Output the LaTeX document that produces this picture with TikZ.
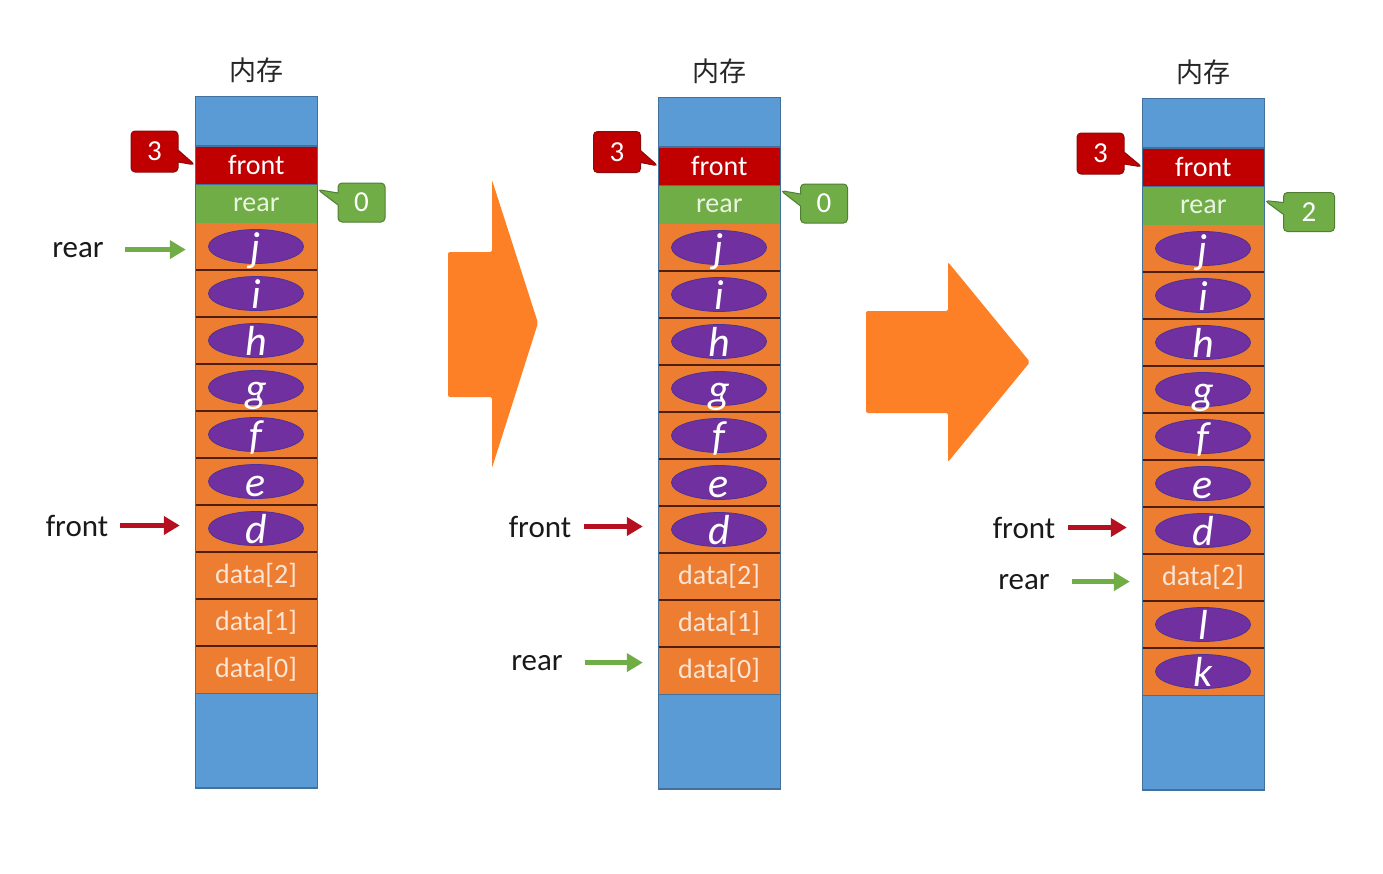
\documentclass[tikz,border=0pt]{standalone}
\usepackage{fontspec}
\setmainfont{Carlito}
\newfontfamily\cjk{Noto Sans CJK SC}
\usetikzlibrary{shapes.geometric,shapes.callouts,arrows.meta,calc}
\definecolor{memblue}{RGB}{91,155,213}
\definecolor{memborder}{RGB}{65,113,156}
\definecolor{memred}{RGB}{192,0,0}
\definecolor{memredborder}{RGB}{140,10,10}
\definecolor{memgreen}{RGB}{112,173,71}
\definecolor{memgreenborder}{RGB}{80,126,50}
\definecolor{memorange}{RGB}{237,125,49}
\definecolor{sepbrown}{RGB}{80,30,10}
\definecolor{mempurple}{RGB}{112,48,160}
\definecolor{ellborder}{RGB}{80,50,150}
\definecolor{datatext}{RGB}{251,229,214}
\definecolor{reartext}{RGB}{234,245,224}
\definecolor{bigorange}{RGB}{253,128,38}
\definecolor{arrred}{RGB}{180,16,32}
\newcommand{\drawmem}[4]{%
 \begin{scope}[shift={(#1,#2)}]
  \node[cellbox,fill=memblue,minimum height=49pt,anchor=north west] (#3top) at (0,0) {};
  \node[cellbox,fill=memred,minimum height=38pt,anchor=north,text=white] (#3f) at (#3top.south) {front};
  \node[cellbox,fill=memgreen,minimum height=40pt,anchor=north,text=reartext] (#3r) at (#3f.south) {rear};
  \foreach \i in {1,...,10} {\node[ocell] (#3c\i) at (61,{103.5+47*\i}) {};}
  \node[cellbox,fill=memblue,minimum height=94pt,anchor=north] (#3bot) at (#3c10.south) {};
  \foreach \i in {1,...,9} {\draw[sepline] (#3c\i.south west) -- (#3c\i.south east);}
  \draw[memborder,line width=0.6pt] (#3top.north west) rectangle (#3bot.south east);
  \node[cjklab] (#3lab) at ([yshift=26pt]#3top.north) {内存};
  \foreach \l [count=\i] in {#4} {
    \node[ell] (#3e\i) at (#3c\i) {};
    \node[letter] (#3t\i) at ([yshift=2pt]#3e\i.south) {\l};
  }
 \end{scope}}
\begin{document}
\begin{tikzpicture}[x=1pt,y=-1pt,
  cellbox/.style={draw=memborder,line width=0.6pt,minimum width=122pt,inner sep=0pt,text=datatext,font=\fontsize{28}{30}\selectfont},
  ocell/.style={fill=memorange,minimum width=122pt,minimum height=47pt,inner sep=0pt,text=datatext,font=\fontsize{28}{30}\selectfont},
  sepline/.style={draw=sepbrown,line width=2pt},
  ell/.style={ellipse,fill=mempurple,draw=ellborder,line width=0.8pt,minimum width=95pt,minimum height=34pt,inner sep=0pt},
  letter/.style={text=white,font=\fontsize{42}{44}\selectfont\itshape,inner sep=0pt,anchor=base},
  cjklab/.style={font=\cjk\fontsize{27}{29}\selectfont,text=black!85,inner sep=0pt},
  sidelab/.style={font=\fontsize{31}{33}\selectfont,text=black!90,inner sep=0pt,anchor=base},
  datalab/.style={text=datatext,font=\fontsize{28}{30}\selectfont,inner sep=0pt},
  garrow/.style={draw=memgreen,line width=5pt,-{Triangle[length=16pt,width=18pt]}},
  rarrow/.style={draw=arrred,line width=5pt,-{Triangle[length=16pt,width=18pt]}},
  callred/.style={rectangle callout,rounded corners=4pt,callout pointer width=12pt,fill=memred,draw=memredborder,line width=1pt,text=white,minimum width=47pt,minimum height=41pt,inner sep=0pt,font=\fontsize{29}{31}\selectfont},
  callgreen/.style={rectangle callout,rounded corners=4pt,callout pointer width=12pt,fill=memgreen,draw=memgreenborder,line width=1pt,text=white,minimum width=47pt,minimum height=39pt,inner sep=0pt,font=\fontsize{29}{31}\selectfont},
  bigarrow/.style={fill=bigorange,rounded corners=2pt}
]
\useasboundingbox (0,0) rectangle (1383,873);

% big transition arrows
\fill[bigarrow] (448,252) -- (492,252) -- (492,180) -- (538,323) -- (492,468) -- (492,397) -- (448,397) -- cycle;
\fill[bigarrow] (866,311) -- (948,311) -- (948,262) -- (1030,362) -- (948,462) -- (948,413) -- (866,413) -- cycle;

% columns
\drawmem{195}{96}{A}{j,i,h,g,f,e,d}
\drawmem{658}{97}{B}{j,i,h,g,f,e,d}
\drawmem{1142}{98}{C}{j,i,h,g,f,e,d}

% data cell texts
\node[datalab] (Ad2) at (Ac8) {data[2]};
\node[datalab] (Ad1) at (Ac9) {data[1]};
\node[datalab] (Ad0) at (Ac10) {data[0]};
\node[datalab] (Bd2) at (Bc8) {data[2]};
\node[datalab] (Bd1) at (Bc9) {data[1]};
\node[datalab] (Bd0) at (Bc10) {data[0]};
\node[datalab] (Cd2) at (Cc8) {data[2]};
\node[ell] (Ce9) at (Cc9) {};
\node[letter] (Ct9) at ([yshift=2pt]Ce9.south) {l};
\node[ell] (Ce10) at (Cc10) {};
\node[letter] (Ct10) at ([yshift=2pt]Ce10.south) {k};

% callouts
\node[callred,callout absolute pointer={(Af.west)}] (An3) at (154.5,151.5) {3};
\node[callgreen,callout absolute pointer={([yshift=15pt]Ar.east)}] (An0) at (361.5,202.5) {0};
\node[callred,callout absolute pointer={(Bf.west)}] (Bn3) at (617,152) {3};
\node[callgreen,callout absolute pointer={([yshift=15pt]Br.east)}] (Bn0) at (824,203.5) {0};
\node[callred,callout absolute pointer={(Cf.west)}] (Cn3) at (1100.5,153.5) {3};
\node[callgreen,minimum width=51pt,callout absolute pointer={([yshift=6pt]Cr.east)}] (Cn2) at (1309,212) {2};

% side labels and pointer arrows
\node[sidelab] (Arl) at (78,257) {rear};
\draw[garrow,shorten <=21pt,shorten >=9pt] (Arl.east) -- (Arl.east -| Ac1.west);
\node[sidelab] (Afl) at (77,536) {front};
\draw[rarrow,shorten <=12pt,shorten >=15pt] (Afl.east) -- (Afl.east -| Ac7.west);
\node[sidelab] (Bfl) at (540,537) {front};
\draw[rarrow,shorten <=13pt,shorten >=15pt] (Bfl.east) -- (Bfl.east -| Bc7.west);
\node[sidelab] (Brl) at (537,670) {rear};
\draw[garrow,shorten <=22pt,shorten >=15pt] (Brl.east) -- (Brl.east -| Bc10.west);
\node[sidelab] (Cfl) at (1024,538) {front};
\draw[rarrow,shorten <=13pt,shorten >=15pt] (Cfl.east) -- (Cfl.east -| Cc7.west);
\node[sidelab] (Crl) at (1024,589) {rear};
\draw[garrow,shorten <=22pt,shorten >=12pt] (Crl.east) -- (Crl.east -| Cc8.west);
\end{tikzpicture}
\end{document}
